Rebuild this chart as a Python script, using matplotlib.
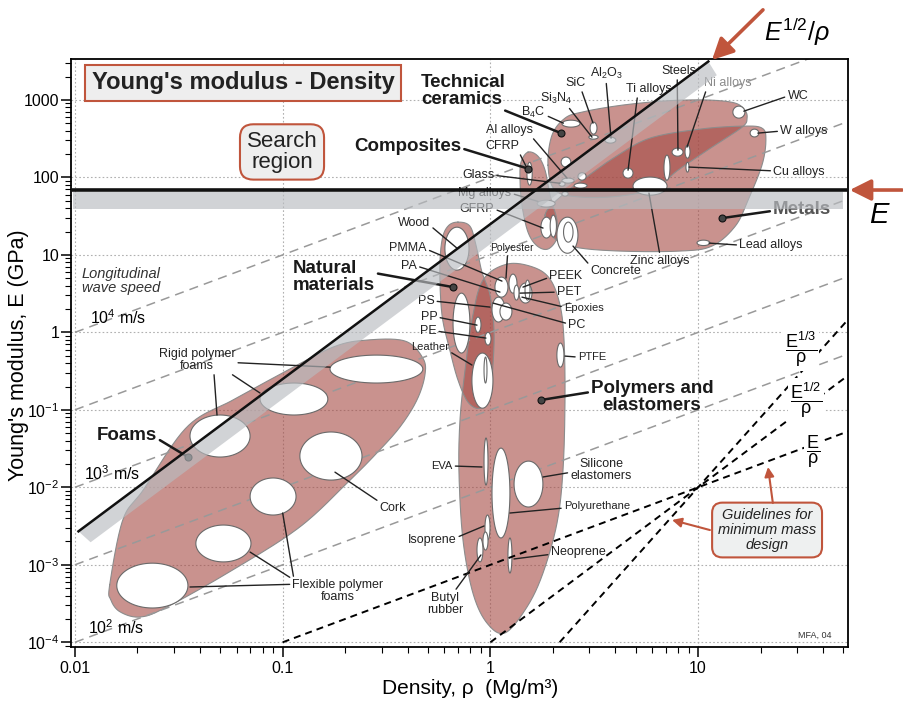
import numpy as np
import matplotlib
matplotlib.use("Agg")
import matplotlib.pyplot as plt
from matplotlib.ticker import LogLocator, NullFormatter

plt.rcParams['font.family'] = ['Liberation Sans', 'DejaVu Sans']
plt.rcParams['mathtext.fontset'] = 'custom'
plt.rcParams['mathtext.rm'] = 'Liberation Sans'
plt.rcParams['mathtext.it'] = 'Liberation Sans:italic'
plt.rcParams['mathtext.bf'] = 'Liberation Sans:bold'

# ====================== DATA (density Mg/m3, modulus GPa) ======================
# family envelopes: boundary points
foams_rho = [0.0147, 0.0170, 0.0213, 0.0346, 0.0576, 0.100, 0.175, 0.255, 0.388, 0.473, 0.484,
             0.443, 0.367, 0.284, 0.211, 0.121, 0.0576, 0.0277, 0.0206, 0.0165, 0.0149]
foams_E = [5.5e-4, 3.79e-3, 9.2e-3, 0.060, 0.134, 0.299, 0.646, 0.796, 0.773, 0.466, 0.281,
           0.134, 0.060, 0.0277, 0.0124, 3.08e-3, 8.6e-4, 2.85e-4, 2.12e-4, 2.47e-4, 3.51e-4]

polymers_rho = [1.202, 1.604, 1.937, 2.164, 2.262, 2.287, 2.237, 2.093, 1.792, 1.50, 1.176,
                0.963, 0.824, 0.738, 0.706, 0.714, 0.755, 0.815, 0.921]
polymers_E = [7.60, 6.96, 4.87, 2.25, 0.796, 0.134, 0.0167, 3.46e-3, 7.83e-4, 2.85e-4, 1.32e-4,
              1.77e-4, 4.32e-4, 2.09e-3, 0.0153, 0.0739, 0.326, 1.44, 4.73]

natural_rho = [0.698, 0.797, 0.852, 0.911, 0.996, 1.041, 1.029, 0.996, 0.891, 0.780, 0.698,
               0.638, 0.585, 0.571, 0.585, 0.625]
natural_E = [26.5, 23.5, 13.4, 6.0, 3.03, 1.07, 0.379, 0.155, 0.105, 0.126, 0.243, 0.591,
             1.67, 6.36, 15.5, 23.5]

composites_rho = [1.517, 1.695, 1.833, 1.937, 2.093, 2.093, 1.894, 1.676, 1.517, 1.419, 1.389, 1.404]
composites_E = [212, 188, 124, 59.0, 28.1, 16.5, 11.9, 13.1, 19.7, 43.8, 92.2, 157]

ceramics_rho = [1.894, 1.980, 2.287, 2.761, 3.98, 5.86, 8.18, 11.66, 15.1, 16.8, 17.2, 16.3,
                11.66, 8.0, 6.20, 4.21, 2.70, 2.047]
ceramics_E = [144, 351, 582, 697, 832, 937, 993, 993, 910, 738, 582, 446, 246, 124, 72.8,
              57.4, 55.8, 68.5]

metals_rho = [1.833, 2.164, 2.761, 3.98, 5.86, 10.2, 16.3, 20.3, 21.2, 20.3, 17.4, 15.1,
              11.66, 8.18, 4.21, 2.555, 2.002]
metals_E = [32.6, 55.7, 92.2, 183, 321, 420, 459, 433, 303, 144, 50.9, 23.5, 13.0, 11.2,
            11.2, 12.6, 17.0]

# material bubbles: density range and modulus range
bub_rho_lo = [0.0159, 0.0382, 0.0697, 0.0358, 0.0778, 0.169, 0.121,
              0.604, 0.661, 0.843, 0.942, 0.815, 0.932, 2.09,
              0.932, 1.018, 1.30, 0.942, 0.921, 0.862, 1.215,
              1.052, 1.229, 1.373, 1.018, 1.112, 1.299, 1.468,
              1.50, 1.75, 1.94, 2.09, 2.25, 1.68,
              2.21, 2.64, 2.53, 2.14, 2.21, 2.19,
              2.21, 3.02, 2.98, 3.56, 4.35, 4.86, 6.85, 7.49, 8.65, 8.74, 14.7, 17.8, 9.88]
bub_rho_hi = [0.035, 0.0704, 0.116, 0.0697, 0.165, 0.473, 0.241,
              0.789, 0.797, 0.901, 1.007, 1.029, 0.963, 2.26,
              0.974, 1.242, 1.79, 0.996, 0.974, 0.921, 1.27,
              1.215, 1.343, 1.586, 1.175, 1.27, 1.373, 1.552,
              1.59, 1.98, 2.08, 2.64, 2.50, 2.05,
              2.53, 2.89, 2.92, 2.29, 2.37, 2.44,
              2.70, 3.26, 3.30, 4.02, 4.86, 7.09, 7.32, 8.46, 9.14, 9.04, 16.8, 19.6, 11.4]
bub_E_lo = [2.77e-4, 1.09e-3, 4.39e-3, 0.0246, 0.0858, 0.222, 0.0124,
            6.36, 0.541, 1.0, 0.686, 0.105, 0.222, 0.356,
            0.0107, 2.22e-3, 5.57e-3, 2.09e-3, 1.55e-3, 1.09e-3, 7.83e-4,
            2.85, 3.21, 2.39, 1.36, 1.44, 2.61, 2.61,
            79.4, 16.5, 17.0, 10.5, 14.6, 41.4,
            84.4, 92.2, 72.8, 77, 57.3, 136,
            446, 362, 312, 277, 98, 59, 92, 188, 177, 117, 582, 333, 13.2]
bub_E_hi = [1.05e-3, 3.26e-3, 0.0132, 0.0858, 0.222, 0.509, 0.0518,
            22.8, 3.21, 1.575, 1.0, 0.541, 0.48, 0.728,
            0.0433, 0.0321, 0.0218, 4.39e-3, 2.65e-3, 2.22e-3, 2.22e-3,
            5.17, 5.65, 4.33, 2.85, 2.39, 4.07, 4.73,
            157, 30.7, 32.6, 30.7, 26.5, 50.9,
            98, 115, 84.4, 87.8, 65.5, 183,
            548, 517, 351, 331, 132, 101, 194, 239, 261, 157, 832, 420, 15.5]

# family centre markers
dot_rho = [2.188, 1.517, 0.661, 1.752, 0.035, 13.0]
dot_E = [373, 130, 3.84, 0.134, 0.0246, 29.8]

# longitudinal wave speed lines, E/rho (GPa per Mg/m3)
wave_ratio = [100, 10, 1, 0.1, 0.01]
# minimum-mass guidelines through rho=10, E=0.01
guide_exp = [1, 2, 3]

# search region
E_limit = 69
E_band = [39, 64]
spec_stiff_hi = 25      # E = C * rho^2 (E^1/2/rho line)
spec_stiff_lo = 13.8

# small labels: text, target rho, target E, offset px (dx, dy), leader start (relpos), size
small_labels = [
    ("B$_4$C", 2.246, 502, -30, 11, (1, 0.3), 9),
    ("Si$_3$N$_4$", 3.085, 331, -36, 39, (0.85, 0), 9),
    ("SiC", 3.12, 502, -17, 40, (0.75, 0), 9),
    ("Al$_2$O$_3$", 3.81, 321, -5, 65, (0.5, 0), 9),
    ("Ti alloys", 4.60, 124, 21, 81, (0.25, 0), 9),
    ("Steels", 8.0, 225, 1, 79, (0.45, 0), 9),
    ("WC", 16.6, 716, 54, 15, (0, 0.5), 9),
    ("W alloys", 19.4, 373, 46, 2, (0, 0.5), 9),
    ("Cu alloys", 9.04, 136, 110, -5, (0, 0.6), 9),
    ("Lead alloys", 11.28, 14.2, 62, -2, (0, 0.5), 9),
    ("Zinc alloys", 5.80, 62.7, 11, -68, (0.5, 1), 9),
    ("Concrete", 2.499, 13.0, 43, -25, (0, 0.9), 9),
    ("Al alloys", 2.338, 98, -57, 48, (0.95, 0), 9),
    ("CFRP", 1.517, 124, -26, 24, (1, 0), 9),
    ("Glass", 2.164, 84, -82, 8, (1, 0.5), 9),
    ("Mg alloys", 1.695, 49, -53, 8, (1, 0.5), 9),
    ("GFRP", 1.792, 22.2, -66, 19, (1, 0.5), 9),
    ("Wood", 0.691, 12.2, -43, 25, (1, 0.3), 9),
    ("PMMA", 1.137, 4.59, -94, 33, (1, 0.4), 9),
    ("PA", 1.112, 3.31, -91, 26, (1, 0.5), 9),
    ("Polyester", 1.189, 5.02, 6, 30, (0.4, 0), 7.5),
    ("PEEK", 1.435, 3.84, 43, 11, (0, 0.4), 9),
    ("PET", 1.389, 3.21, 49, 1, (0, 0.5), 9),
    ("Epoxies", 1.419, 2.85, 62, -11, (0, 0.6), 8),
    ("PC", 1.029, 2.39, 84, -22, (0, 0.6), 9),
    ("PS", 0.996, 2.12, -64, 6, (1, 0.5), 9),
    ("PP", 0.862, 1.24, -48, 8, (1, 0.5), 9),
    ("PE", 0.952, 0.844, -58, 7, (1, 0.5), 9),
    ("Leather", 0.815, 0.379, -42, 18, (0.95, 0.2), 8),
    ("PTFE", 2.287, 0.494, 27, -1, (0, 0.5), 8),
    ("EVA", 0.911, 0.0183, -40, 1, (1, 0.5), 8),
    ("Silicone\nelastomers", 1.792, 0.0136, 58, 7, (0, 0.4), 9),
    ("Polyurethane", 1.242, 0.00466, 87, 7, (0, 0.3), 8),
    ("Isoprene", 0.932, 0.00317, -52, -14, (1, 0.7), 9),
    ("Neoprene", 1.299, 0.00119, 64, 7, (0, 0.3), 9),
    ("Butyl\nrubber", 0.901, 0.00134, -36, -49, (0.75, 1), 9),
    ("Cork", 0.1786, 0.0157, 58, -36, (0, 1), 9),
    ("Rigid polymer\nfoams", 0.169, 0.356, -133, 7, (0.97, 0.4), 9),
    ("Rigid polymer\nfoams", 0.0778, 0.165, -63, 33, (0.79, 0.25), 9),
    ("Rigid polymer\nfoams", 0.0483, 0.0858, -20, 55, (0.72, 0), 9),
    ("Flexible polymer\nfoams", 0.0358, 5.17e-4, 148, -4, (0, 0.78), 9),
    ("Flexible polymer\nfoams", 0.0697, 1.46e-3, 88, -39, (0, 1), 9),
    ("Flexible polymer\nfoams", 0.100, 4.66e-3, 55, -78, (0.02, 1), 9),
]

# family labels: text, target (dot), offset px, relpos, horizontal alignment
family_labels = [
    ("Technical\nceramics", 2.188, 373, -140, 42, (0.91, 0), 'left'),
    ("Composites", 1.517, 130, -120, 22, (1, 0.4), 'center'),
    ("Natural\nmaterials", 0.661, 3.84, -160, 10, (1, 0.62), 'left'),
    ("Polymers and\nelastomers", 1.752, 0.134, 111, 3, (0, 0.65), 'center'),
    ("Foams", 0.035, 0.0246, -61, 22, (1, 0.3), 'center'),
    ("Metals", 13.0, 29.8, 80, 9, (0, 0.4), 'center'),
]

# ====================== STYLE ======================
ENV_COLOR = (165 / 255, 73 / 255, 67 / 255)
ENV_ALPHA = 0.6
BAND_COLOR = '#b9bcc0'
RED = '#c0553c'
BOX_FACE = '#eeeeee'


def smooth_closed(xs, ys, n=24):
    # closed Catmull-Rom curve through the points, done in log space
    P = np.column_stack([np.log10(xs), np.log10(ys)])
    N = len(P)
    t = np.linspace(0, 1, n, endpoint=False)[:, None]
    out = []
    for i in range(N):
        p0, p1, p2, p3 = P[i - 1], P[i], P[(i + 1) % N], P[(i + 2) % N]
        pts = 0.5 * (2 * p1 + (-p0 + p2) * t + (2 * p0 - 5 * p1 + 4 * p2 - p3) * t ** 2
                     + (-p0 + 3 * p1 - 3 * p2 + p3) * t ** 3)
        out.append(pts)
    out = np.vstack(out)
    return 10 ** out[:, 0], 10 ** out[:, 1]


def bubble(rlo, rhi, elo, ehi, n=90):
    t = np.linspace(0, 2 * np.pi, n)
    cx = (np.log10(rlo) + np.log10(rhi)) / 2
    cy = (np.log10(elo) + np.log10(ehi)) / 2
    ax_ = (np.log10(rhi) - np.log10(rlo)) / 2
    ay_ = (np.log10(ehi) - np.log10(elo)) / 2
    return 10 ** (cx + ax_ * np.cos(t)), 10 ** (cy + ay_ * np.sin(t))


# ====================== FIGURE ======================
fig = plt.figure(figsize=(9.04, 7.03), dpi=100)
ax = fig.add_axes([0.0785, 0.0797, 0.8596, 0.836])
ax.set_xscale('log')
ax.set_yscale('log')
XMIN, XMAX = 0.00957, 52.7
ax.set_xlim(XMIN, XMAX)
ax.set_ylim(8.7e-5, 3350)

ax.set_axisbelow(True)
ax.grid(True, which='major', color='#b0b0b0', ls=(0, (1.5, 2)), lw=0.8)

# envelopes
for rx, ry in [(foams_rho, foams_E), (polymers_rho, polymers_E), (natural_rho, natural_E),
               (composites_rho, composites_E), (ceramics_rho, ceramics_E), (metals_rho, metals_E)]:
    sx, sy = smooth_closed(rx, ry)
    ax.fill(sx, sy, facecolor=ENV_COLOR, alpha=ENV_ALPHA, edgecolor='none', zorder=1)
    ax.plot(np.r_[sx, sx[0]], np.r_[sy, sy[0]], color='#8c8c8c', lw=0.8, zorder=1.1)

# wave speed lines
xs = np.logspace(-2, np.log10(XMAX), 200)
for c in wave_ratio:
    ax.plot(xs, c * xs, color='#999999', lw=1.1, dashes=(6, 4), zorder=1.5)

# bubbles (largest first)
areas = [np.log10(h / l) * np.log10(eh / el) for l, h, el, eh in zip(bub_rho_lo, bub_rho_hi, bub_E_lo, bub_E_hi)]
for i in np.argsort(areas)[::-1]:
    bx, by = bubble(bub_rho_lo[i], bub_rho_hi[i], bub_E_lo[i], bub_E_hi[i])
    ax.fill(bx, by, facecolor='white', edgecolor='#6a6a6a', lw=0.8, zorder=2)

# minimum mass guidelines
for k in guide_exp:
    x0 = 10 * (1e-4 / 0.01) ** (1.0 / k)
    gx = np.logspace(np.log10(x0), np.log10(XMAX), 100)
    ax.plot(gx, 0.01 * (gx / 10) ** k, color='black', lw=1.4, dashes=(3.6, 2.6), zorder=2.5)

# family dots
ax.plot(dot_rho, dot_E, 'o', ms=5, mfc='#444444', mec='#111111', mew=0.8, zorder=3.5)

# labels with leaders
seen = set()
for txt, tx, ty, dx, dy, rp, fs in small_labels:
    col = 'none' if txt in seen else '#222222'
    seen.add(txt)
    ax.annotate(txt, xy=(tx, ty), xytext=(dx, dy), textcoords='offset pixels',
                ha='center', va='center', fontsize=fs, color=col, linespacing=1.0,
                arrowprops=dict(arrowstyle='-', color='#222222', lw=1.0, relpos=rp,
                                shrinkA=0, shrinkB=0), zorder=3)

ax.annotate("Ni alloys", xy=(8.84, 246), xytext=(41, 64), textcoords='offset pixels',
            ha='center', va='center', fontsize=9, color='#8a8a8a',
            arrowprops=dict(arrowstyle='-', color='#222222', lw=1.0, relpos=(0.05, 0),
                            shrinkA=0, shrinkB=0), zorder=3)

for txt, tx, ty, dx, dy, rp, ha in family_labels:
    col = '#555555' if txt == 'Metals' else '#1a1a1a'
    ax.annotate(txt, xy=(tx, ty), xytext=(dx, dy), textcoords='offset pixels',
                ha=ha, va='center', fontsize=13.5, fontweight='bold', color=col,
                linespacing=0.95, multialignment='left' if ha == 'left' else 'center',
                arrowprops=dict(arrowstyle='-', color='#1a1a1a', lw=1.8, relpos=rp,
                                shrinkA=0, shrinkB=0), zorder=3)

# wave speed text
ax.text(0.0108, 4.59, "Longitudinal\nwave speed", fontsize=10.5, style='italic',
        color='#333333', ha='left', va='center', linespacing=1.05, zorder=3)
ax.text(0.0118, 1.53, "10$^4$ m/s", fontsize=11.5, ha='left', va='center', zorder=3)
ax.text(0.0110, 0.0149, "10$^3$ m/s", fontsize=11.5, ha='left', va='center', zorder=3)
ax.text(0.0116, 1.53e-4, "10$^2$ m/s", fontsize=11.5, ha='left', va='center', zorder=3)

# search bands
ax.axhspan(E_band[0], E_band[1], xmin=0.003, xmax=0.994, color=BAND_COLOR, alpha=0.65,
           lw=0, zorder=4)
ax.axhline(E_limit, xmin=0.003, xmax=0.997, color='#111111', lw=2.6, zorder=5)
up = np.logspace(np.log10(0.0104), np.log10(11.2), 50)
lo = np.logspace(np.log10(12.3), np.log10(0.0119), 50)
ax.fill(np.r_[up, lo], np.r_[spec_stiff_hi * up ** 2, spec_stiff_lo * lo ** 2],
        color=BAND_COLOR, alpha=0.65, lw=0, zorder=4)
ax.plot(up, spec_stiff_hi * up ** 2, color='#111111', lw=1.8, zorder=5)

# guideline fractions
for txt, xf, yf in [(r'$\dfrac{\mathrm{E}^{1/3}}{\mathrm{\rho}}$', 0.9395, 0.507),
                    (r'$\dfrac{\mathrm{E}^{1/2}}{\mathrm{\rho}}$', 0.946, 0.420),
                    (r'$\dfrac{\mathrm{E}}{\mathrm{\rho}}$', 0.955, 0.332)]:
    ax.text(xf, yf, txt, transform=ax.transAxes, fontsize=13, ha='center', va='center',
            bbox=dict(boxstyle='square,pad=0.1', fc='white', ec='none'), zorder=6)

# boxes
ax.text(0.2214, 0.9597, "Young's modulus - Density", transform=ax.transAxes, fontsize=17,
        fontweight='bold', color='#222222', ha='center', va='center',
        bbox=dict(boxstyle='square,pad=0.28', fc=BOX_FACE, ec=RED, lw=1.5), zorder=7)
ax.text(0.2716, 0.8423, "Search\nregion", transform=ax.transAxes, fontsize=16,
        color='#222222', ha='center', va='center', linespacing=1.0,
        bbox=dict(boxstyle='round,pad=0.3,rounding_size=0.6', fc=BOX_FACE, ec=RED, lw=1.5),
        zorder=7)
ax.text(0.8958, 0.199, "Guidelines for\nminimum mass\ndesign", transform=ax.transAxes,
        fontsize=10.5, style='italic', color='#222222', ha='center', va='center',
        linespacing=1.05,
        bbox=dict(boxstyle='round,pad=0.4,rounding_size=0.7', fc='#eef0f0', ec=RED, lw=1.5),
        zorder=7)
ax.annotate('', xy=(7.49, 3.79e-3), xytext=(11.4, 2.81e-3),
            arrowprops=dict(arrowstyle='-|>', color=RED, lw=1.5, mutation_scale=14,
                            shrinkA=0, shrinkB=0), zorder=7)
ax.annotate('', xy=(21.7, 0.0183), xytext=(22.9, 6.27e-3),
            arrowprops=dict(arrowstyle='-|>', color=RED, lw=1.5, mutation_scale=14,
                            shrinkA=0, shrinkB=0), zorder=7)
ax.text(0.979, 0.019, "MFA, 04", transform=ax.transAxes, fontsize=6.5, color='#333333',
        ha='right', va='center')

# outside arrows and labels
ax.annotate('', xy=(0.7876, 0.9147), xycoords='figure fraction',
            xytext=(0.844, 0.986), textcoords='figure fraction',
            arrowprops=dict(arrowstyle='-|>', color=RED, lw=2.6, mutation_scale=32,
                            shrinkA=0, shrinkB=0), annotation_clip=False, zorder=8)
ax.annotate('', xy=(0.940, 0.7297), xycoords='figure fraction',
            xytext=(0.998, 0.7297), textcoords='figure fraction',
            arrowprops=dict(arrowstyle='-|>', color=RED, lw=2.6, mutation_scale=32,
                            shrinkA=0, shrinkB=0), annotation_clip=False, zorder=8)
fig.text(0.882, 0.955, r'$E^{1/2}/\rho$', fontsize=18, ha='center', va='center')
fig.text(0.973, 0.694, r'$E$', fontsize=21, ha='center', va='center')

# axes, ticks
ax.set_xticks([0.01, 0.1, 1, 10], labels=['0.01', '0.1', '1', '10'], fontsize=11.5)
ax.set_yticks([1e-4, 1e-3, 1e-2, 1e-1, 1, 10, 100, 1000],
              labels=['$10^{-4}$', '$10^{-3}$', '$10^{-2}$', '$10^{-1}$', '1', '10', '100', '1000'],
              fontsize=11.5)
ax.xaxis.set_minor_locator(LogLocator(base=10, subs=np.arange(2, 10), numticks=100))
ax.yaxis.set_minor_locator(LogLocator(base=10, subs=np.arange(2, 10), numticks=100))
ax.xaxis.set_minor_formatter(NullFormatter())
ax.yaxis.set_minor_formatter(NullFormatter())
ax.tick_params(which='major', direction='out', length=7, width=1.1, pad=3)
ax.tick_params(which='minor', direction='out', length=4, width=0.8)
ax.tick_params(axis='y', which='major', pad=1.5)
for s in ax.spines.values():
    s.set_linewidth(1.3)

fig.text(470 / 904, 1 - 688 / 703, 'Density, ρ  (Mg/m³)', fontsize=15, ha='center', va='center')
fig.text(19 / 904, 1 - 355 / 703, "Young's modulus, E (GPa)", fontsize=15.5, rotation=90,
         ha='center', va='center')

fig.savefig("out.png", dpi=100)
